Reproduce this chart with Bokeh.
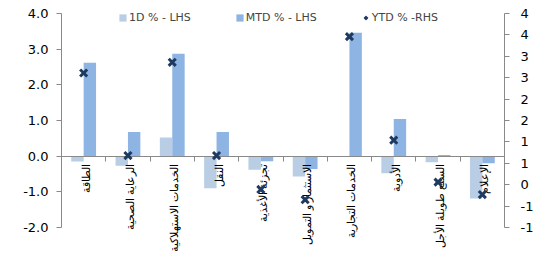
import math
from bokeh.plotting import figure
from bokeh.models import (FactorRange, Range1d, LinearAxis, FixedTicker, NumeralTickFormatter,
                          ColumnDataSource, LabelSet, Legend, LegendItem)
from bokeh.transform import dodge
from bokeh.embed import file_html
from bokeh.resources import INLINE

categories = ["الطاقة", "الرعاية الصحية", "الخدمات الاستهلاكية", "النقل", "تجزئة الأغذية",
              "الاستثمار و التمويل", "الخدمات التجارية", "الأدوية", "السلع طويلة الأجل", "الإعلام"]
d1 = [-0.15, -0.27, 0.52, -0.90, -0.38, -0.57, 0.0, -0.48, -0.17, -1.19]
mtd = [2.62, 0.68, 2.87, 0.68, -0.14, -0.36, 3.46, 1.04, 0.03, -0.20]
ytd = [2.61, 0.68, 2.86, 0.68, -0.11, -0.35, 3.46, 1.04, 0.06, -0.23]

left_ticks = [-2, -1, 0, 1, 2, 3, 4]
right_ticks = [-1.0, -0.5, 0.0, 0.5, 1.0, 1.5, 2.0, 2.5, 3.0, 3.5, 4.0]
right_labels = ["-1", "-1", "0", "1", "1", "2", "2", "3", "3", "4", "4"]
series_names = ["1D % - LHS", "MTD % - LHS", "YTD % -RHS"]

C_1D = "#B9CDE5"
C_MTD = "#8DB4E2"
C_YTD = "#1F3A60"
AXIS = "#898989"
FONT = "DejaVu Sans"

src = ColumnDataSource(dict(cat=categories, d1=d1, mtd=mtd, ytd=ytd))

# frame extends a little above the top tick and below the bottom tick so that
# the legend and the hanging category labels are not clipped
p = figure(x_range=FactorRange(*categories), y_range=Range1d(-2.673, 4.224),
           frame_width=443, frame_height=246, output_backend="svg", toolbar_location=None,
           x_axis_location=None, min_border_left=61, min_border_right=44,
           min_border_top=5, min_border_bottom=0)
p.outline_line_color = None
p.xgrid.visible = False
p.ygrid.visible = False
p.x_range.range_padding = 0


def style_axis(ax):
    ax.axis_line_color = AXIS
    ax.major_tick_line_color = AXIS
    ax.major_tick_in = 0
    ax.major_tick_out = 5
    ax.minor_tick_line_color = None
    ax.major_label_text_font = FONT
    ax.major_label_text_font_size = "13px"
    ax.major_label_text_color = "#000000"


# left axis
ya = p.yaxis[0]
ya.ticker = FixedTicker(ticks=left_ticks)
ya.formatter = NumeralTickFormatter(format="0.0")
ya.bounds = (left_ticks[0], left_ticks[-1])
style_axis(ya)
ya.major_label_standoff = 8

# right axis
p.extra_y_ranges = {"rhs": Range1d(-1.561, 4.187)}
ra = LinearAxis(y_range_name="rhs", ticker=FixedTicker(ticks=right_ticks),
                bounds=(right_ticks[0], right_ticks[-1]),
                major_label_overrides={t: l for t, l in zip(right_ticks, right_labels)})
style_axis(ra)
ra.major_label_standoff = 11
p.add_layout(ra, "right")

# category axis line at zero, ticks on category boundaries (synthetic coords 0..n)
bounds = list(range(len(categories) + 1))
xa = LinearAxis(fixed_location=0, ticker=FixedTicker(ticks=bounds),
                major_label_overrides={b: "" for b in bounds})
style_axis(xa)
xa.major_label_standoff = 0
p.add_layout(xa, "below")

r1 = p.vbar(x=dodge("cat", -0.14, range=p.x_range), top="d1", width=0.28, source=src,
            fill_color=C_1D, line_color=None)
r2 = p.vbar(x=dodge("cat", 0.14, range=p.x_range), top="mtd", width=0.28, source=src,
            fill_color=C_MTD, line_color=None)
r3 = p.scatter(x="cat", y="ytd", y_range_name="rhs", source=src, marker="x", size=10,
               line_width=3, line_color=C_YTD, level="overlay")

labels = LabelSet(x="cat", y=0, text="cat", source=src, angle=math.pi / 2,
                  text_align="right", text_baseline="middle", y_offset=-8, x_offset=2,
                  text_font=FONT, text_font_size="11px", text_color="#000000")
p.add_layout(labels)

legend = Legend(items=[LegendItem(label=series_names[0], renderers=[r1]),
                       LegendItem(label=series_names[1], renderers=[r2]),
                       LegendItem(label=series_names[2], renderers=[r3])],
                orientation="horizontal", location=(57, 227), border_line_color=None,
                background_fill_alpha=0, label_text_font=FONT, label_text_font_size="11px",
                glyph_width=9, glyph_height=9, label_standoff=2, spacing=44,
                padding=0, margin=0, label_height=10)
p.add_layout(legend)

open("out.html", "w").write(file_html(p, INLINE))
